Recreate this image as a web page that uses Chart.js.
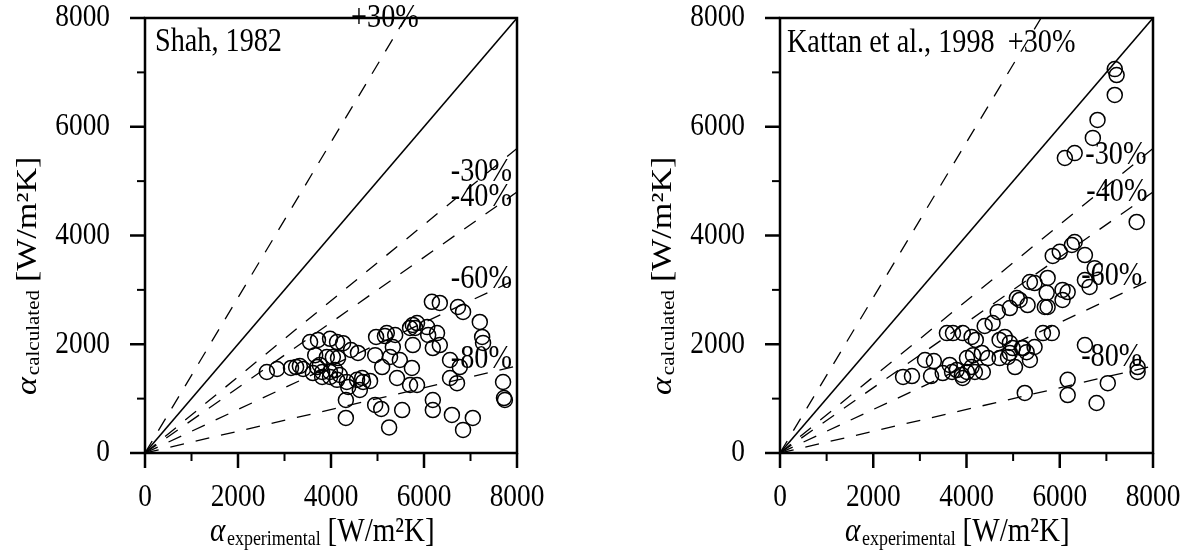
<!DOCTYPE html>
<html>
<head>
<meta charset="utf-8">
<script src="https://cdn.jsdelivr.net/npm/chart.js@4.4.0/dist/chart.umd.min.js"></script>
<style>
  body { margin: 0; background: #fff; }
  #wrap { position: relative; width: 1190px; height: 551px; }
  .box { position: absolute; top: 0; height: 551px; }
</style>
</head>
<body>
<div id="wrap">
  <div class="box" style="left:0;width:635px"><canvas id="chartShah"></canvas></div>
  <div class="box" style="left:635px;width:555px"><canvas id="chartKattan"></canvas></div>
</div>
<script>
// values (W/m2K)
const shahExp = [2620, 2840, 3140, 3250, 3330, 3400, 3550, 3720, 3980, 4130, 4260, 4430, 4580, 3660, 3910, 4040, 4150, 3700, 3810, 3980,
  4090, 4190, 3610, 3810, 3980, 4130, 4340, 4370, 4560, 4670, 4690, 4840, 4620, 4950, 4970, 5160, 4320, 4320, 4950, 5080,
  5250, 6170, 6340, 6730, 6840, 7200, 7250, 7270, 5760, 5850, 5810, 5700, 6070, 6280, 6090, 6340, 6190, 5760, 5380, 5330,
  5200, 5270, 5480, 5740, 5420, 5700, 5850, 6560, 6770, 6560, 6710, 7700, 7720, 7740, 6190, 6190, 5530, 6600, 6840, 7050,
  5100, 3760];
const shahCalc = [1490, 1545, 1565, 1580, 1600, 1545, 2040, 2080, 2100, 2040, 2020, 1895, 1840, 1800, 1765, 1765, 1745, 1580, 1490, 1490,
  1525, 1435, 1470, 1400, 1400, 1345, 1305, 1215, 1345, 1380, 1305, 1325, 1160, 1800, 2135, 2150, 975, 645, 885, 810,
  470, 2780, 2760, 2685, 2595, 2410, 2135, 2025, 2355, 2390, 2300, 2300, 2315, 2205, 2170, 1985, 1930, 1985, 2170, 1950,
  2205, 1765, 1710, 1565, 1380, 1250, 1250, 1710, 1580, 1380, 1285, 1305, 1010, 975, 975, 790, 790, 700, 425, 645,
  1580, 1620];

const kattanExp = [2640, 2830, 3110, 3300, 3240, 3580, 3710, 3920, 4110, 4200, 3640, 3690, 3790, 3900, 4010, 4110, 4180, 4350, 4010, 4140,
  4330, 4460, 4390, 4560, 4670, 4710, 4820, 4930, 5040, 4890, 4710, 5190, 5290, 5250, 4930, 5140, 5310, 3920, 3490, 5360,
  5460, 5740, 5720, 5680, 5740, 6060, 6170, 6060, 5850, 6000, 6260, 6320, 6540, 6750, 6540, 6640, 5640, 5830, 4990, 5210,
  5460, 5360, 6540, 7670, 7670, 6170, 6170, 7030, 6790, 7180, 7220, 7180, 6810, 6710, 6320, 6110, 7650, 4930, 5080];
const kattanCalc = [1400, 1415, 1710, 1690, 1415, 2205, 2205, 2205, 2135, 2080, 1620, 1490, 1525, 1435, 1490, 1580, 1490, 1490, 1745, 1800,
  1840, 1745, 2335, 2390, 2595, 2080, 2135, 2025, 1580, 1765, 1745, 1930, 1855, 1105, 2665, 2815, 2720, 1380, 1470, 3145,
  3125, 3220, 2945, 2685, 2685, 3000, 2960, 2815, 3625, 3700, 3825, 3880, 3640, 3400, 3180, 3055, 2205, 2205, 1930, 1930,
  1950, 1710, 1985, 1580, 1490, 1345, 1065, 1285, 920, 7060, 6950, 6585, 6125, 5795, 5515, 5425, 4250, 1840, 2850];

const labelStep = 2000;      // labelled ticks; the others (every 1000) are minor
const deviationNames = ['+30%', '-30%', '-40%', '-60%', '-80%'];
const deviationFactors = [1 / 0.7, 0.7, 0.6, 0.4, 0.2];

const FONT = "'Liberation Serif', 'Times New Roman', serif";
const SQUEEZE = 0.855;   // the original figure is narrowed horizontally

// label anchors in data units: [x, y, align]
const shahNotes = {
  title: ['Shah, 1982', 215, 7560, 'left'],
  pct: [[5160, 8000, 'center'], [7890, 5170, 'right'], [7890, 4710, 'right'], [7890, 3200, 'right'], [7890, 1730, 'right']]
};
const kattanNotes = {
  title: ['Kattan et al., 1998', 150, 7540, 'left'],
  pct: [[4885, 7540, 'left'], [7860, 5480, 'right'], [7880, 4800, 'right'], [7770, 3240, 'right'], [7770, 1765, 'right']]
};

function text(ctx, str, x, y, font, align, base) {
  ctx.save();
  ctx.translate(x, y);
  ctx.scale(SQUEEZE, 1);
  ctx.font = font;
  ctx.textAlign = align;
  ctx.textBaseline = base;
  ctx.fillText(str, 0, 0);
  ctx.restore();
}

function drawSegments(ctx, parts) {
  let x = 0;
  parts.forEach(p => {
    ctx.font = p[1];
    ctx.fillText(p[0], x, p[2]);
    x += ctx.measureText(p[0]).width + (p[3] || 0);
  });
}

const framePlugin = {
  id: 'frame',
  afterDatasetsDraw(chart, args, opts) {
    const { ctx, chartArea: a, scales: { x, y } } = chart;
    const tickFont = '32px ' + FONT;
    ctx.save();
    ctx.strokeStyle = '#000';
    ctx.fillStyle = '#000';
    ctx.lineWidth = 2.5;
    ctx.strokeRect(a.left, a.top, a.right - a.left, a.bottom - a.top);

    // tick marks and labels from the scales' own ticks
    x.ticks.forEach(t => {
      const major = t.value % labelStep === 0;
      const px = x.getPixelForValue(t.value);
      ctx.lineWidth = major ? 2.5 : 2;
      ctx.beginPath();
      ctx.moveTo(px, a.bottom);
      ctx.lineTo(px, a.bottom + (major ? 15 : 8));
      ctx.stroke();
      if (major) text(ctx, String(t.value), px, a.bottom + 45, tickFont, 'center', 'middle');
    });
    y.ticks.forEach(t => {
      const major = t.value % labelStep === 0;
      const py = y.getPixelForValue(t.value);
      ctx.lineWidth = major ? 2.5 : 2;
      ctx.beginPath();
      ctx.moveTo(a.left, py);
      ctx.lineTo(a.left - (major ? 15 : 8), py);
      ctx.stroke();
      if (major) text(ctx, String(t.value), a.left - 35, py, tickFont, 'right', 'middle');
    });

    // notes
    const n = opts.notes;
    const noteFont = '33px ' + FONT;
    text(ctx, n.title[0], x.getPixelForValue(n.title[1]), y.getPixelForValue(n.title[2]), noteFont, n.title[3], 'middle');
    n.pct.forEach((p, i) => {
      text(ctx, deviationNames[i], x.getPixelForValue(p[0]), y.getPixelForValue(p[1]), noteFont, p[2], 'middle');
    });

    // axis titles
    const big = '34px ' + FONT;
    const alpha = 'italic 34px ' + FONT;
    const sub = '21px ' + FONT;
    ctx.textAlign = 'left';
    ctx.textBaseline = 'alphabetic';
    ctx.save();
    ctx.translate(a.left + 65, 541);
    ctx.scale(SQUEEZE, 1);
    drawSegments(ctx, [['\u03b1', alpha, 0, 2], ['experimental', sub, 4, 8], ['[W/m\u00b2K]', big, 0]]);
    ctx.restore();
    ctx.save();
    ctx.translate(36, 395);
    ctx.scale(SQUEEZE, 1);
    ctx.rotate(-Math.PI / 2);
    drawSegments(ctx, [['\u03b1', alpha, 0, 2], ['calculated', sub, 4, 8], ['[W/m\u00b2K]', big, 0]]);
    ctx.restore();
    ctx.restore();
  }
};

function makeChart(id, exp, calc, rightPad, notes) {
  const refLines = deviationFactors.map(f => ({
    type: 'line',
    data: [{ x: 0, y: 0 }, f > 1 ? { x: 8000 / f, y: 8000 } : { x: 8000, y: 8000 * f }],
    borderColor: '#000',
    borderWidth: 1.3,
    borderDash: [14, 12],
    pointRadius: 0,
    fill: false,
    order: 2
  }));
  refLines.push({
    type: 'line',
    data: [{ x: 0, y: 0 }, { x: 8000, y: 8000 }],
    borderColor: '#000',
    borderWidth: 1.5,
    pointRadius: 0,
    fill: false,
    order: 2
  });

  const axis = {
    type: 'linear', min: 0, max: 8000,
    grid: { display: false, drawTicks: false },
    border: { display: false },
    ticks: { display: false, stepSize: 1000 }
  };
  return new Chart(document.getElementById(id), {
    type: 'scatter',
    data: {
      datasets: [{
        data: exp.map((v, i) => ({ x: v, y: calc[i] })),
        pointStyle: 'circle',
        pointRadius: 7.5,
        pointHoverRadius: 7.5,
        borderWidth: 1.5,
        borderColor: '#000',
        backgroundColor: 'rgba(0,0,0,0)',
        order: 1
      }].concat(refLines)
    },
    options: {
      animation: false,
      responsive: true,
      maintainAspectRatio: false,
      events: [],
      layout: { padding: { left: 0, top: 18, right: rightPad, bottom: 0 } },
      plugins: { legend: { display: false }, tooltip: { enabled: false }, frame: { notes: notes } },
      scales: {
        x: Object.assign({}, axis, { afterFit: s => { s.height = 98; } }),
        y: Object.assign({}, axis, { afterFit: s => { s.width = 145; } })
      }
    },
    plugins: [framePlugin]
  });
}

makeChart('chartShah', shahExp, shahCalc, 118, shahNotes);
makeChart('chartKattan', kattanExp, kattanCalc, 37, kattanNotes);
</script>
</body>
</html>
